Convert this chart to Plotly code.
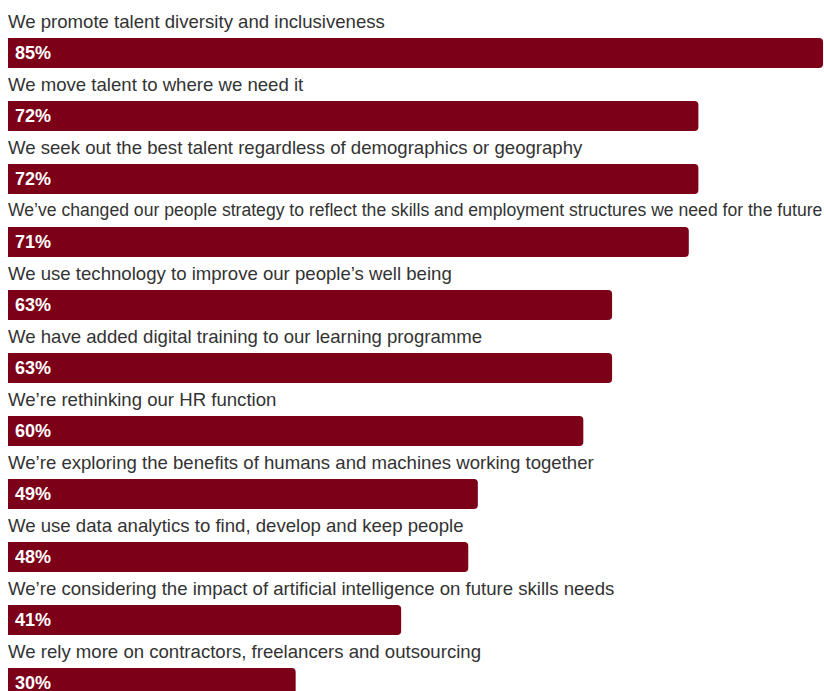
import plotly.graph_objects as go

labels = [
    "We promote talent diversity and inclusiveness",
    "We move talent to where we need it",
    "We seek out the best talent regardless of demographics or geography",
    "We\u2019ve changed our people strategy to reflect the skills and employment structures we need for the future",
    "We use technology to improve our people\u2019s well being",
    "We have added digital training to our learning programme",
    "We\u2019re rethinking our HR function",
    "We\u2019re exploring the benefits of humans and machines working together",
    "We use data analytics to find, develop and keep people",
    "We\u2019re considering the impact of artificial intelligence on future skills needs",
    "We rely more on contractors, freelancers and outsourcing",
]
values = [85, 72, 72, 71, 63, 63, 60, 49, 48, 41, 30]

BAR = "#7d0019"
FONT = "Liberation Sans, Arial, sans-serif"
pos = list(range(len(values)))

fig = go.Figure(go.Bar(
    x=values, y=pos, orientation="h",
    marker=dict(color=BAR, cornerradius=4, line=dict(width=0)),
    width=30 / 63, hoverinfo="skip",
))

annotations = []
for i, (lab, v) in enumerate(zip(labels, values)):
    size = 18.6 if len(lab) < 90 else 17.6
    annotations.append(dict(
        x=0, xref="paper", y=i - 32 / 63, yref="y", text=lab,
        showarrow=False, xanchor="left", yanchor="middle", xshift=-2,
        font=dict(family=FONT, size=size, color="#333333"),
    ))
    annotations.append(dict(
        x=0, xref="paper", y=i, yref="y", text=f"<b>{v}%</b>",
        showarrow=False, xanchor="left", yanchor="middle", xshift=5,
        font=dict(family=FONT, size=18, color="white"),
    ))

fig.update_layout(
    width=824, height=691,
    margin=dict(l=8, r=0, t=0, b=0),
    paper_bgcolor="white", plot_bgcolor="white",
    showlegend=False,
    xaxis=dict(range=[0, 85.1], visible=False, fixedrange=True),
    yaxis=dict(range=[(691 - 53) / 63, -53 / 63], visible=False, fixedrange=True),
    annotations=annotations,
)

fig.write_html("out.html")
